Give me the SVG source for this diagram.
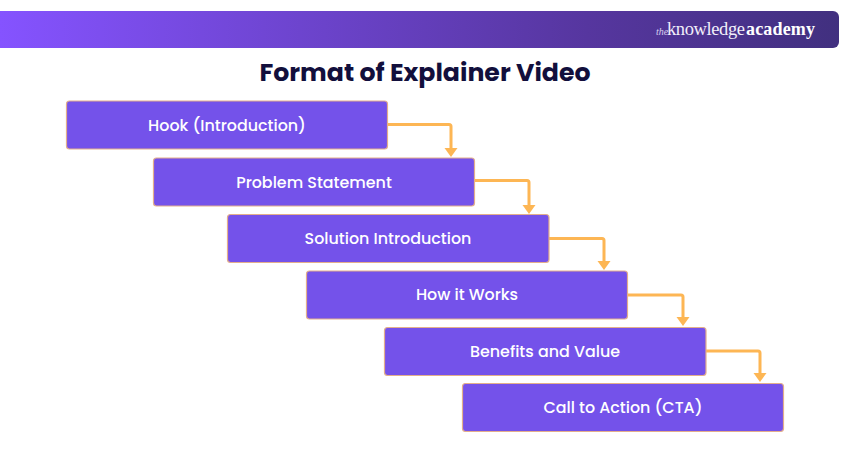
<svg xmlns="http://www.w3.org/2000/svg" width="850" height="450" viewBox="0 0 850 450">
<style>
.box{fill:#7452ea;stroke:#e3ae8c;stroke-width:1.2}
.lbl{font-family:Poppins,"Open Sans","Noto Sans",sans-serif;font-size:15.9px;font-weight:500;fill:#fff;text-anchor:middle}
.conn{fill:none;stroke:#fdb654;stroke-width:3;stroke-linejoin:round}
.head{fill:#fdb654}
</style>
<defs>
<linearGradient id="bar" x1="0" y1="0" x2="1" y2="0">
<stop offset="0" stop-color="#8553ff"/>
<stop offset="0.7" stop-color="#56369f"/>
<stop offset="1" stop-color="#41307f"/>
</linearGradient>
<path id="ah" class="head" d="M-6.500,-4H6.500L0,5Z"/>
</defs>
<rect width="850" height="450" fill="#fff"/>
<g id="header">
<path d="M0,11H833a6,6 0 0 1 6,6V42a6,6 0 0 1 -6,6H0Z" fill="url(#bar)"/>
<text x="656" y="35" font-family="Liberation Serif,serif" font-size="10" font-style="italic" fill="#d8cfee">the</text>
<text x="667" y="35" font-family="Liberation Serif,serif" font-size="18.500" textLength="78" fill="#f2effa">knowledge</text>
<text x="746" y="35" font-family="Liberation Serif,serif" font-size="18" textLength="69" font-weight="700" fill="#fff">academy</text>
</g>
<text id="title" x="425" y="81" font-family="Poppins,'Open Sans','Noto Sans',sans-serif" font-size="25.200" font-weight="700" fill="#120f3c" text-anchor="middle">Format of Explainer Video</text>
<g id="connectors">
<path class="conn" d="M388,124.500H449a2,2 0 0 1 2,2V150"/><use href="#ah" x="451" y="152"/>
<path class="conn" d="M475,180.500H527a2,2 0 0 1 2,2V207"/><use href="#ah" x="529" y="209"/>
<path class="conn" d="M549,238.500H602a2,2 0 0 1 2,2V263"/><use href="#ah" x="604" y="265"/>
<path class="conn" d="M628,295H681a2,2 0 0 1 2,2V319"/><use href="#ah" x="683" y="321"/>
<path class="conn" d="M706,351H758a2,2 0 0 1 2,2V375"/><use href="#ah" x="760" y="377"/>
</g>
<g id="n1"><rect class="box" x="66.500" y="101" width="321" height="48" rx="3"/><text class="lbl" x="227" y="131">Hook (Introduction)</text></g>
<g id="n2"><rect class="box" x="153.500" y="158" width="321" height="48" rx="3"/><text class="lbl" x="314" y="188">Problem Statement</text></g>
<g id="n3"><rect class="box" x="227.500" y="214.500" width="321.500" height="48" rx="3"/><text class="lbl" x="388" y="244">Solution Introduction</text></g>
<g id="n4"><rect class="box" x="306.500" y="271" width="321" height="48" rx="3"/><text class="lbl" x="467" y="300">How it Works</text></g>
<g id="n5"><rect class="box" x="384.500" y="327.500" width="321.500" height="48" rx="3"/><text class="lbl" x="545" y="357">Benefits and Value</text></g>
<g id="n6"><rect class="box" x="462.500" y="383.500" width="321" height="48" rx="3"/><text class="lbl" x="623" y="413">Call to Action (CTA)</text></g>
</svg>
